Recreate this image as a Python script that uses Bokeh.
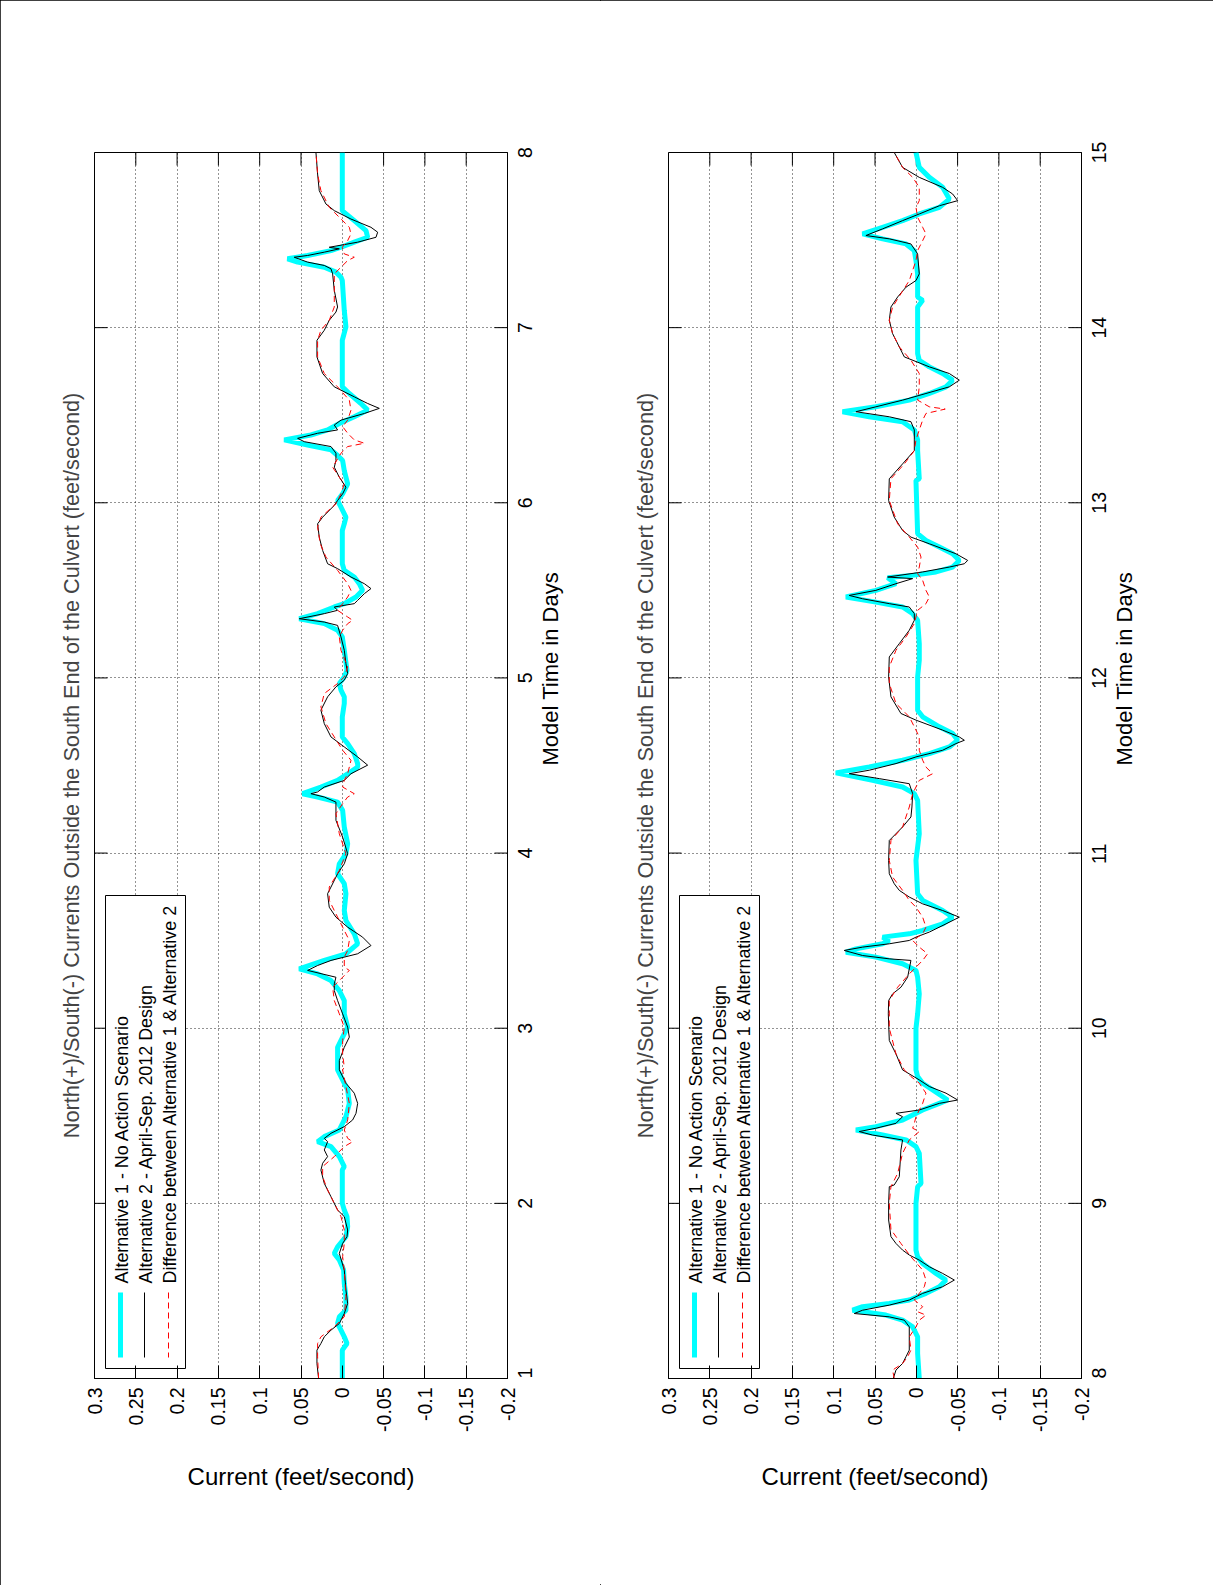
import math
from bokeh.plotting import figure
from bokeh.models import Range1d, FixedTicker, Label
from bokeh.layouts import row
from bokeh.embed import file_html
from bokeh.resources import INLINE

# ---------------- text ----------------
TITLE = "North(+)/South(-) Currents Outside the South End of the Culvert (feet/second)"
X_LABEL = "Current (feet/second)"
Y_LABEL = "Model Time in Days"
LEGEND_LABELS = [
    "Alternative 1 - No Action Scenario",
    "Alternative 2 - April-Sep. 2012 Design",
    "Difference between Alternative 1 & Alternative 2",
]

CURRENT_TICKS = [0.3, 0.25, 0.2, 0.15, 0.1, 0.05, 0.0, -0.05, -0.1, -0.15, -0.2]
CURRENT_TICK_LABELS = ["0.3", "0.25", "0.2", "0.15", "0.1", "0.05", "0",
                       "-0.05", "-0.1", "-0.15", "-0.2"]
DAYS_1 = [1, 2, 3, 4, 5, 6, 7, 8]
DAYS_2 = [8, 9, 10, 11, 12, 13, 14, 15]

# ---------------- data: (model time in days, current ft/s) ----------------
P1_ALT1 = [
    (1.000, 0.000), (1.162, 0.000), (1.200, -0.0057), (1.238, -0.0024), (1.276, 0.0016),
    (1.314, 0.0057), (1.352, 0.0036), (1.390, -0.0044), (1.467, -0.0044), (1.543, -0.0024),
    (1.619, -0.0016), (1.676, 0.0036), (1.714, 0.0097), (1.752, 0.0057), (1.810, -0.0044),
    (1.867, -0.0065), (1.924, -0.0057), (1.962, -0.0024), (2.000, 0.000), (2.190, 0.000),
    (2.210, -0.0024), (2.267, 0.0036), (2.324, 0.0137), (2.352, 0.0299), (2.381, 0.0218),
    (2.419, 0.0036), (2.495, -0.0044), (2.571, -0.0085), (2.648, -0.0065), (2.705, -0.0004),
    (2.762, 0.0057), (2.815, 0.0057), (2.891, 0.0057), (2.949, -0.0004), (3.006, -0.0065),
    (3.082, -0.0024), (3.158, -0.0024), (3.215, 0.0036), (3.272, 0.0137), (3.310, 0.0299),
    (3.339, 0.0521), (3.387, 0.0218), (3.425, -0.0044), (3.482, -0.0186), (3.539, -0.0145),
    (3.615, -0.0044), (3.672, -0.0024), (3.768, -0.0044), (3.825, -0.0024), (3.882, 0.0057),
    (3.939, 0.0036), (3.996, -0.0044), (4.053, -0.0065), (4.149, -0.0024), (4.244, -0.0004),
    (4.291, 0.0057), (4.320, 0.0299), (4.339, 0.0481), (4.377, 0.0259), (4.415, 0.0057),
    (4.453, -0.0065), (4.491, -0.0186), (4.511, -0.0186), (4.568, -0.0145), (4.625, -0.0065),
    (4.663, 0.000), (4.778, 0.000), (4.854, -0.0024), (4.892, -0.0024), (4.930, 0.0016),
    (4.968, 0.0036), (5.006, -0.0024), (5.044, -0.0057), (5.158, -0.0024), (5.234, 0.000),
    (5.272, 0.0057), (5.310, 0.0218), (5.338, 0.0521), (5.367, 0.0299), (5.405, 0.0097),
    (5.424, -0.0024), (5.462, -0.0166), (5.500, -0.0246), (5.538, -0.0206), (5.576, -0.0145),
    (5.614, -0.0024), (5.652, 0.000), (5.842, 0.000), (5.880, -0.0024), (5.918, -0.0044),
    (5.975, 0.0016), (6.013, 0.0057), (6.051, -0.0004), (6.108, -0.0065), (6.184, -0.0024),
    (6.241, -0.0004), (6.270, 0.0057), (6.302, 0.0137), (6.330, 0.042), (6.359, 0.0703),
    (6.387, 0.038), (6.416, 0.0178), (6.453, 0.0036), (6.491, -0.0145), (6.529, -0.0307),
    (6.567, -0.0226), (6.624, -0.0085), (6.662, 0.000), (6.928, 0.000), (7.004, -0.0044),
    (7.099, -0.0024), (7.269, 0.000), (7.288, 0.0016), (7.317, 0.0077), (7.345, 0.0218),
    (7.374, 0.0541), (7.393, 0.0663), (7.412, 0.042), (7.440, 0.0137), (7.459, 0.0016),
    (7.488, -0.0145), (7.516, -0.0307), (7.554, -0.0287), (7.611, -0.0145), (7.658, -0.0024),
    (7.668, 0.000), (8.000, 0.000),
]
P1_ALT2 = [
    (1.000, 0.0287), (1.086, 0.0307), (1.162, 0.0307), (1.200, 0.0259), (1.238, 0.0218),
    (1.276, 0.0137), (1.314, 0.0036), (1.371, -0.0024), (1.429, -0.0065), (1.505, -0.0044),
    (1.619, -0.0024), (1.714, 0.0036), (1.771, -0.0004), (1.810, -0.0057), (1.848, -0.0065),
    (1.924, -0.0024), (1.962, 0.0057), (2.038, 0.0137), (2.114, 0.0218), (2.190, 0.0259),
    (2.229, 0.0238), (2.267, 0.0178), (2.305, 0.0218), (2.352, 0.0178), (2.371, 0.0218),
    (2.400, 0.0137), (2.438, -0.0024), (2.476, -0.0125), (2.514, -0.0166), (2.571, -0.0186),
    (2.629, -0.0145), (2.686, -0.0044), (2.762, 0.0036), (2.815, 0.0036), (2.891, -0.0024),
    (2.949, -0.0085), (3.006, -0.0065), (3.082, -0.0004), (3.158, 0.0057), (3.215, 0.0097),
    (3.253, 0.0097), (3.291, 0.0077), (3.330, 0.042), (3.358, 0.0299), (3.387, 0.0137),
    (3.425, -0.0186), (3.472, -0.0347), (3.520, -0.0246), (3.577, -0.0065), (3.634, 0.0077),
    (3.691, 0.0158), (3.768, 0.0178), (3.806, 0.0137), (3.882, 0.0057), (3.939, -0.0024),
    (3.996, -0.0065), (4.091, -0.0004), (4.187, 0.0077), (4.263, 0.0077), (4.291, 0.0077),
    (4.320, 0.0218), (4.339, 0.038), (4.349, 0.0299), (4.377, 0.0218), (4.415, -0.0024),
    (4.453, -0.0105), (4.502, -0.0307), (4.549, -0.0186), (4.606, -0.0024), (4.663, 0.0137),
    (4.739, 0.0218), (4.816, 0.0259), (4.892, 0.0178), (4.949, 0.0077), (4.987, -0.0024),
    (5.025, -0.0065), (5.082, -0.0044), (5.158, -0.0024), (5.234, 0.0016), (5.300, 0.0057),
    (5.319, 0.0218), (5.338, 0.0521), (5.367, 0.0218), (5.386, 0.0057), (5.405, 0.0097),
    (5.424, -0.0145), (5.443, -0.0186), (5.481, -0.0267), (5.510, -0.0347), (5.538, -0.0267),
    (5.576, -0.0105), (5.624, 0.0057), (5.652, 0.0178), (5.728, 0.0238), (5.804, 0.0279),
    (5.880, 0.0299), (5.918, 0.0238), (5.947, 0.0178), (5.985, 0.0097), (6.013, 0.0057),
    (6.051, -0.0004), (6.089, -0.0044), (6.146, 0.0036), (6.203, 0.0097), (6.241, 0.0077),
    (6.283, 0.0077), (6.321, 0.0137), (6.349, 0.0461), (6.368, 0.0541), (6.397, 0.0299),
    (6.416, 0.0057), (6.444, 0.0097), (6.472, 0.0016), (6.510, -0.0267), (6.539, -0.0448),
    (6.567, -0.0307), (6.605, -0.0145), (6.662, 0.0097), (6.738, 0.0238), (6.833, 0.0307),
    (6.928, 0.0307), (6.985, 0.0218), (7.042, 0.0158), (7.089, 0.0077), (7.118, 0.0057),
    (7.213, 0.0097), (7.307, 0.0117), (7.336, 0.0137), (7.355, 0.0218), (7.374, 0.042),
    (7.402, 0.0582), (7.412, 0.042), (7.431, 0.0218), (7.450, 0.0036), (7.459, 0.0158),
    (7.488, -0.0186), (7.516, -0.0408), (7.545, -0.0428), (7.573, -0.0347), (7.620, -0.0105),
    (7.668, 0.0097), (7.706, 0.0198), (7.782, 0.0279), (7.877, 0.0299), (8.000, 0.0319),
]
P1_DIFF = [
    (1.000, 0.0287), (1.124, 0.0299), (1.200, 0.0299), (1.238, 0.0259), (1.295, 0.0097),
    (1.352, -0.0024), (1.467, -0.0044), (1.619, -0.0024), (1.695, -0.0004), (1.771, -0.0024),
    (1.848, -0.0024), (1.924, 0.0016), (2.000, 0.0097), (2.076, 0.0178), (2.152, 0.0238),
    (2.210, 0.0238), (2.267, 0.0097), (2.324, -0.0024), (2.352, -0.0125), (2.371, -0.0065),
    (2.419, -0.0024), (2.476, -0.0065), (2.571, -0.0085), (2.667, -0.0044), (2.762, -0.0004),
    (2.777, -0.0024), (2.853, -0.0004), (2.930, -0.0004), (3.006, -0.0024), (3.082, 0.0036),
    (3.158, 0.0097), (3.234, 0.0117), (3.291, -0.0004), (3.330, -0.0085), (3.349, -0.0024),
    (3.406, -0.0024), (3.444, -0.0065), (3.501, -0.0085), (3.577, -0.0004), (3.653, 0.0077),
    (3.730, 0.0158), (3.806, 0.0158), (3.901, 0.0036), (3.996, -0.0044), (4.110, 0.0036),
    (4.225, 0.0077), (4.282, -0.0004), (4.320, -0.0065), (4.339, -0.0145), (4.377, -0.0004),
    (4.415, -0.0024), (4.453, -0.0065), (4.530, -0.0105), (4.587, -0.0004), (4.663, 0.0097),
    (4.739, 0.0198), (4.835, 0.0259), (4.911, 0.0218), (4.968, 0.0057), (5.006, -0.0024),
    (5.063, -0.0065), (5.158, 0.0016), (5.234, 0.0036), (5.272, -0.0004), (5.310, -0.0065),
    (5.329, -0.0125), (5.348, -0.0065), (5.386, 0.0057), (5.424, -0.0004), (5.462, -0.0065),
    (5.500, -0.0105), (5.538, -0.0065), (5.614, 0.0057), (5.690, 0.0198), (5.766, 0.0267),
    (5.861, 0.0299), (5.918, 0.0259), (5.994, 0.0077), (6.051, 0.0016), (6.108, -0.0024),
    (6.146, 0.0036), (6.203, 0.0117), (6.283, 0.0016), (6.321, -0.0065), (6.340, -0.0267),
    (6.359, -0.0145), (6.397, -0.0065), (6.435, -0.0004), (6.472, -0.0065), (6.529, -0.0105),
    (6.586, -0.0085), (6.662, 0.0057), (6.738, 0.0218), (6.833, 0.0299), (6.928, 0.0299),
    (6.985, 0.0259), (7.042, 0.0158), (7.118, 0.0097), (7.213, 0.0097), (7.307, 0.0097),
    (7.345, 0.0016), (7.383, -0.0065), (7.402, -0.0145), (7.421, -0.0024), (7.459, 0.000),
    (7.497, -0.0065), (7.535, -0.0105), (7.573, -0.0085), (7.630, 0.0036), (7.687, 0.0158),
    (7.782, 0.0259), (7.877, 0.0299), (8.000, 0.0319),
]
P2_ALT1 = [
    (8.000, -0.0036), (8.143, -0.0016), (8.238, -0.0016), (8.295, 0.0044), (8.333, 0.0166),
    (8.362, 0.0368), (8.390, 0.0772), (8.410, 0.065), (8.429, 0.0327), (8.448, 0.0085),
    (8.486, -0.0117), (8.524, -0.0279), (8.562, -0.036), (8.600, -0.0238), (8.657, -0.0077),
    (8.695, -0.0016), (8.733, 0.0004), (9.000, 0.0004), (9.095, -0.0016), (9.114, -0.0057),
    (9.286, -0.0036), (9.324, 0.0004), (9.362, 0.0125), (9.390, 0.0408), (9.419, 0.0731),
    (9.438, 0.0489), (9.476, 0.0166), (9.505, 0.0044), (9.533, -0.0077), (9.571, -0.0279),
    (9.590, -0.038), (9.648, -0.0198), (9.686, -0.0077), (9.724, -0.0016), (9.762, 0.0004),
    (10.000, 0.0004), (10.082, -0.0016), (10.196, -0.0036), (10.291, -0.0016), (10.330, 0.0004),
    (10.368, 0.0166), (10.406, 0.0489), (10.434, 0.0852), (10.453, 0.0731), (10.482, 0.0408),
    (10.501, 0.0327), (10.520, 0.0408), (10.539, 0.0085), (10.558, -0.0077), (10.596, -0.0319),
    (10.634, -0.044), (10.672, -0.0319), (10.730, -0.0077), (10.768, -0.0016), (10.958, 0.0004),
    (11.110, -0.0036), (11.301, -0.0016), (11.339, 0.0024), (11.377, 0.0166), (11.415, 0.0529),
    (11.458, 0.0974), (11.492, 0.057), (11.530, 0.0166), (11.568, -0.0158), (11.606, -0.04),
    (11.644, -0.0501), (11.683, -0.044), (11.721, -0.0279), (11.778, -0.0077), (11.816, -0.0016),
    (12.006, -0.0016), (12.101, -0.0036), (12.196, -0.0036), (12.329, -0.0016), (12.367, 0.0044),
    (12.405, 0.0166), (12.433, 0.0489), (12.462, 0.0852), (12.500, 0.0489), (12.538, 0.0246),
    (12.572, 0.0347), (12.587, 0.0024), (12.605, -0.0238), (12.633, -0.044), (12.671, -0.0521),
    (12.709, -0.044), (12.747, -0.0279), (12.785, -0.0117), (12.823, -0.0016), (13.127, 0.0004),
    (13.137, -0.0036), (13.298, -0.0016), (13.359, -0.0016), (13.416, 0.0024), (13.463, 0.0166),
    (13.491, 0.057), (13.520, 0.0893), (13.548, 0.0489), (13.586, 0.0085), (13.624, -0.0158),
    (13.662, -0.036), (13.700, -0.044), (13.738, -0.0319), (13.776, -0.0158), (13.814, -0.0036),
    (13.852, -0.0016), (14.118, -0.0016), (14.156, -0.0077), (14.175, -0.0016), (14.307, -0.0016),
    (14.383, 0.0004), (14.440, 0.0024), (14.478, 0.0125), (14.507, 0.0408), (14.535, 0.065),
    (14.573, 0.0408), (14.611, 0.0166), (14.649, -0.0036), (14.687, -0.0279), (14.734, -0.04),
    (14.801, -0.0319), (14.858, -0.0158), (14.915, -0.0036), (15.000, 0.0004),
]
P2_ALT2 = [
    (8.000, 0.0279), (8.048, 0.0246), (8.086, 0.0166), (8.124, 0.0125), (8.162, 0.0085),
    (8.295, 0.0085), (8.333, 0.0145), (8.352, 0.0327), (8.371, 0.0751), (8.390, 0.065),
    (8.419, 0.0327), (8.448, 0.0085), (8.486, -0.0077), (8.524, -0.0319), (8.562, -0.0461),
    (8.600, -0.0319), (8.638, -0.0158), (8.676, -0.0036), (8.705, 0.0085), (8.733, 0.0166),
    (8.771, 0.0246), (8.810, 0.0307), (8.905, 0.0335), (9.000, 0.0335), (9.095, 0.0327),
    (9.105, 0.0267), (9.152, 0.0206), (9.305, 0.0186), (9.362, 0.0166), (9.390, 0.0529),
    (9.410, 0.0691), (9.429, 0.0489), (9.457, 0.0246), (9.495, 0.0166), (9.514, 0.0246),
    (9.533, -0.0036), (9.571, -0.0279), (9.590, -0.0501), (9.629, -0.036), (9.667, -0.0158),
    (9.705, -0.0036), (9.762, 0.0166), (9.853, 0.0246), (9.930, 0.0327), (10.082, 0.0339),
    (10.158, 0.0335), (10.196, 0.0287), (10.234, 0.0186), (10.291, 0.0105), (10.387, 0.0065),
    (10.396, 0.0327), (10.415, 0.065), (10.444, 0.0873), (10.463, 0.065), (10.482, 0.0327),
    (10.501, 0.0085), (10.520, 0.0004), (10.549, -0.0158), (10.596, -0.036), (10.634, -0.0521),
    (10.672, -0.0319), (10.710, -0.0077), (10.749, 0.0085), (10.787, 0.0206), (10.825, 0.0267),
    (10.882, 0.0327), (10.958, 0.0335), (11.072, 0.0327), (11.091, 0.0287), (11.149, 0.0166),
    (11.206, 0.0065), (11.263, 0.0053), (11.339, 0.0044), (11.396, 0.0085), (11.425, 0.0448),
    (11.453, 0.0812), (11.473, 0.057), (11.511, 0.0246), (11.549, 0.0004), (11.587, -0.0319),
    (11.625, -0.048), (11.644, -0.0582), (11.663, -0.0521), (11.702, -0.0319), (11.759, 0.0004),
    (11.797, 0.0186), (11.892, 0.0307), (12.006, 0.0335), (12.120, 0.0327), (12.196, 0.0206),
    (12.272, 0.0085), (12.329, 0.0024), (12.367, 0.0024), (12.405, 0.0085), (12.424, 0.0327),
    (12.452, 0.065), (12.471, 0.0812), (12.500, 0.0489), (12.538, 0.0246), (12.567, 0.0044),
    (12.576, 0.0347), (12.605, -0.0077), (12.633, -0.04), (12.652, -0.0582), (12.671, -0.0622),
    (12.709, -0.048), (12.766, -0.0158), (12.804, 0.0065), (12.842, 0.0166), (12.918, 0.0267),
    (13.013, 0.0335), (13.137, 0.0327), (13.222, 0.0166), (13.298, 0.0024), (13.359, 0.0024),
    (13.416, 0.0024), (13.463, 0.0065), (13.491, 0.0327), (13.520, 0.0731), (13.548, 0.0489),
    (13.586, 0.0166), (13.624, -0.0117), (13.662, -0.04), (13.700, -0.0521), (13.738, -0.04),
    (13.776, -0.0158), (13.833, 0.0145), (13.890, 0.0206), (13.966, 0.0287), (14.042, 0.0327),
    (14.118, 0.0307), (14.175, 0.0226), (14.231, 0.0125), (14.269, 0.0004), (14.307, -0.0036),
    (14.421, -0.0016), (14.478, 0.0065), (14.507, 0.0327), (14.526, 0.061), (14.564, 0.0408),
    (14.611, 0.0166), (14.649, -0.0036), (14.696, -0.0279), (14.725, -0.0501), (14.763, -0.044),
    (14.801, -0.0319), (14.858, -0.0036), (14.915, 0.0166), (15.000, 0.0267),
]
P2_DIFF = [
    (8.000, 0.0267), (8.048, 0.0287), (8.086, 0.0166), (8.124, 0.0105), (8.162, 0.0065),
    (8.238, 0.0085), (8.295, 0.0004), (8.333, -0.0036), (8.362, -0.0117), (8.381, -0.0016),
    (8.410, -0.0077), (8.448, 0.0024), (8.486, -0.0036), (8.524, -0.0097), (8.562, -0.0117),
    (8.619, -0.0077), (8.695, 0.0065), (8.771, 0.0186), (8.850, 0.0307), (9.000, 0.0327),
    (9.095, 0.0307), (9.171, 0.0226), (9.286, 0.0166), (9.362, 0.0085), (9.410, -0.0036),
    (9.429, 0.0044), (9.457, 0.0024), (9.495, 0.0004), (9.571, -0.0077), (9.629, -0.0117),
    (9.686, -0.0036), (9.724, 0.0065), (9.762, 0.0145), (9.853, 0.0246), (10.000, 0.0327),
    (10.158, 0.0327), (10.234, 0.0226), (10.310, 0.0085), (10.387, -0.0077), (10.425, -0.0137),
    (10.463, -0.0036), (10.501, 0.0044), (10.539, -0.0077), (10.577, -0.0117), (10.634, -0.0077),
    (10.691, 0.0004), (10.730, 0.0085), (10.787, 0.0166), (10.863, 0.0287), (10.958, 0.0327),
    (11.072, 0.0307), (11.149, 0.0166), (11.263, 0.0085), (11.339, 0.0044), (11.415, -0.0036),
    (11.453, -0.0198), (11.491, -0.0117), (11.530, -0.0077), (11.587, -0.0036), (11.663, -0.0036),
    (11.702, 0.0004), (11.778, 0.0085), (11.854, 0.0246), (11.968, 0.0327), (12.063, 0.0327),
    (12.158, 0.0246), (12.234, 0.0125), (12.310, 0.0024), (12.348, 0.0004), (12.386, -0.0016),
    (12.424, -0.0117), (12.462, -0.0158), (12.500, -0.0117), (12.557, -0.0077), (12.595, -0.0016),
    (12.633, -0.0036), (12.690, -0.0057), (12.747, -0.0016), (12.804, 0.0085), (12.880, 0.0226),
    (13.013, 0.0327), (13.137, 0.0307), (13.222, 0.0145), (13.298, 0.0024), (13.359, 0.0004),
    (13.416, -0.0036), (13.472, -0.0077), (13.510, -0.0117), (13.535, -0.035), (13.548, -0.0158),
    (13.586, -0.0016), (13.662, -0.0036), (13.738, -0.0036), (13.814, 0.0065), (13.890, 0.0206),
    (13.966, 0.0287), (14.042, 0.0327), (14.118, 0.0287), (14.194, 0.0186), (14.269, 0.0085),
    (14.383, 0.0004), (14.440, -0.0016), (14.497, -0.0077), (14.535, -0.0117), (14.573, -0.0077),
    (14.630, -0.0016), (14.687, 0.0004), (14.725, -0.0036), (14.801, -0.0036), (14.858, 0.0044),
    (14.915, 0.0166), (15.000, 0.0267),
]

# ---------------- styling / layout ----------------
FONT = "Liberation Sans"
CYAN, BLACK, RED = "#00ffff", "#000000", "#ff0000"
RED_DASH = "6 4"
FRAME_W, FRAME_H = 413, 1226
FIG_H = 1585
TOP = 152
BOTTOM = FIG_H - TOP - FRAME_H
TICK_LEN = 13          # px, inside ticks
TICK_FONT_PX = 19.5
DIGIT_EM = 0.556       # advance width of a digit in Liberation Sans


def panel(days, alt1, alt2, diff, width, left):
    right = width - left - FRAME_W
    x0, x1 = CURRENT_TICKS[0], CURRENT_TICKS[-1]
    d0, d1 = days[0], days[-1]
    p = figure(width=width, height=FIG_H,
               x_range=Range1d(x0, x1), y_range=Range1d(d0, d1),
               y_axis_location="right", title=TITLE, title_location="left",
               output_backend="svg", toolbar_location=None,
               min_border_left=left, min_border_right=right,
               min_border_top=TOP, min_border_bottom=BOTTOM,
               background_fill_color="white", border_fill_color="white")
    p.outline_line_color = "black"
    p.outline_line_width = 1
    p.outline_line_alpha = 1

    p.title.text_font = FONT
    p.title.text_font_size = "21.7px"
    p.title.text_font_style = "normal"
    p.title.align = "center"
    if "standoff" in p.title.properties():
        p.title.standoff = 21

    # pixel -> data helpers for hand drawn furniture
    def fx(px):  # px measured from the frame's left edge
        return x0 - px / FRAME_W * (x0 - x1)

    def fy(py):  # py measured from the frame's top edge
        return d1 - py / FRAME_H * (d1 - d0)

    days_per_px = (d1 - d0) / FRAME_H
    dx = (x0 - x1) * TICK_LEN / FRAME_W
    dy = TICK_LEN * days_per_px

    p.xgrid.ticker = FixedTicker(ticks=CURRENT_TICKS)
    p.ygrid.ticker = FixedTicker(ticks=days)
    p.grid.grid_line_color = "black"
    p.grid.grid_line_dash = "1 3"
    p.grid.grid_line_alpha = 0.85

    xa = p.xaxis[0]
    xa.ticker = FixedTicker(ticks=CURRENT_TICKS)
    xa.major_label_overrides = dict(zip(CURRENT_TICKS, CURRENT_TICK_LABELS))
    xa.major_tick_in = TICK_LEN
    xa.major_tick_out = 0
    xa.minor_tick_line_color = None
    xa.major_tick_line_color = "black"
    xa.axis_line_color = "black"
    xa.major_label_orientation = math.pi / 2
    xa.major_label_text_font = FONT
    xa.major_label_text_font_size = f"{TICK_FONT_PX}px"
    xa.major_label_text_color = "black"
    xa.major_label_standoff = 9
    xa.axis_label = X_LABEL
    xa.axis_label_text_font = FONT
    xa.axis_label_text_font_size = "24px"
    xa.axis_label_text_font_style = "normal"
    xa.axis_label_text_color = "black"
    xa.axis_label_standoff = 28

    # right (time) axis: a rotated label starts at its anchor, so each anchor is
    # moved down by half the label's length to centre the label on its day
    # (the first one cannot go below the range start and stays at the edge).
    ya = p.yaxis[0]
    anchors, overrides = [], {}
    for d in days:
        half_px = 0.5 * DIGIT_EM * TICK_FONT_PX * len(str(d))
        a = round(max(d - half_px * days_per_px, d0 + 0.0005), 6)
        anchors.append(a)
        overrides[a] = str(d)
    ya.ticker = FixedTicker(ticks=anchors)
    ya.major_label_overrides = overrides
    ya.major_tick_out = 0
    ya.major_tick_in = 0
    ya.minor_tick_line_color = None
    ya.axis_line_color = "black"
    ya.major_label_orientation = math.pi / 2
    ya.major_label_text_font = FONT
    ya.major_label_text_font_size = f"{TICK_FONT_PX}px"
    ya.major_label_text_color = "black"
    ya.major_label_standoff = 18
    ya.axis_label = Y_LABEL
    ya.axis_label_text_font = FONT
    ya.axis_label_text_font_size = "22px"
    ya.axis_label_text_font_style = "normal"
    ya.axis_label_text_color = "black"
    ya.axis_label_standoff = 8
    if "axis_label_orientation" in ya.properties():
        ya.axis_label_orientation = math.pi / 2

    # inside ticks: top edge (current) and both side edges (days)
    p.segment(x0=CURRENT_TICKS, y0=[d1] * len(CURRENT_TICKS),
              x1=CURRENT_TICKS, y1=[d1 - dy] * len(CURRENT_TICKS),
              line_color="black", line_width=1)
    p.segment(x0=[x0] * len(days), y0=days, x1=[x0 - dx] * len(days), y1=days,
              line_color="black", line_width=1)
    p.segment(x0=[x1] * len(days), y0=days, x1=[x1 + dx] * len(days), y1=days,
              line_color="black", line_width=1)

    # data
    p.line([v for _, v in alt1], [t for t, _ in alt1], line_color=CYAN, line_width=5)
    p.line([v for _, v in alt2], [t for t, _ in alt2], line_color=BLACK, line_width=1)
    p.line([v for _, v in diff], [t for t, _ in diff], line_color=RED, line_width=1,
           line_dash=RED_DASH)

    # legend (drawn by hand so that its text can be rotated like the page)
    p.quad(left=[fx(11)], right=[fx(91)], top=[fy(743)], bottom=[fy(1216)],
           fill_color="white", line_color="black", line_width=1)
    styles = [(CYAN, 5, "solid"), (BLACK, 1, "solid"), (RED, 1, RED_DASH)]
    for i, (txt, (col, lw, dash)) in enumerate(zip(LEGEND_LABELS, styles)):
        sx = 26 + 24 * i
        p.line([fx(sx), fx(sx)], [fy(1140), fy(1205)], line_color=col,
               line_width=lw, line_dash=dash)
        p.add_layout(Label(x=fx(sx + 1.5), y=fy(1131), text=txt, angle=math.pi / 2,
                           text_align="left", text_baseline="middle",
                           text_font=FONT, text_font_size="17.9px",
                           text_color="black"))
    return p


p1 = panel(DAYS_1, P1_ALT1, P1_ALT2, P1_DIFF, width=600, left=94)
p2 = panel(DAYS_2, P2_ALT1, P2_ALT2, P2_DIFF, width=613, left=68)

layout = row(p1, p2, styles={"outline": "1px solid black", "outline-offset": "-1px"})
open("out.html", "w").write(file_html(layout, INLINE))
